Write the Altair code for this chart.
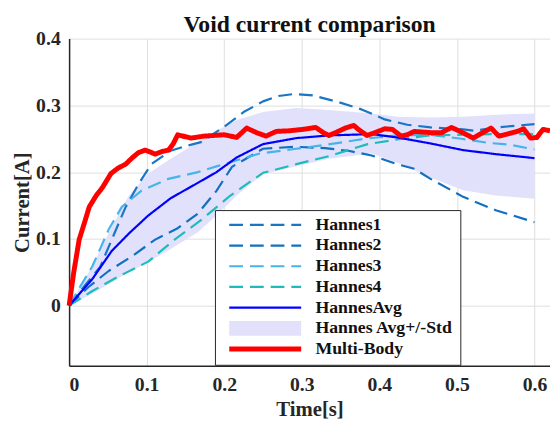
import altair as alt
import pandas as pd

# ---- data ----
h1_t = [0, 0.02, 0.04, 0.055, 0.073, 0.09, 0.106, 0.131, 0.15, 0.17, 0.2, 0.225, 0.25, 0.27, 0.29, 0.314, 0.347, 0.377, 0.407, 0.436, 0.466, 0.508, 0.522, 0.552, 0.6]
h1_v = [0, 0.03, 0.058, 0.099, 0.148, 0.183, 0.212, 0.232, 0.239, 0.245, 0.268, 0.29, 0.306, 0.314, 0.317, 0.315, 0.305, 0.294, 0.279, 0.271, 0.267, 0.264, 0.262, 0.267, 0.272]

h2_t = [0, 0.025, 0.051, 0.081, 0.111, 0.14, 0.166, 0.19, 0.21, 0.25, 0.29, 0.33, 0.36, 0.39, 0.42, 0.445, 0.466, 0.508, 0.55, 0.6]
h2_v = [0, 0.028, 0.052, 0.074, 0.099, 0.116, 0.138, 0.172, 0.208, 0.235, 0.238, 0.236, 0.232, 0.225, 0.213, 0.205, 0.19, 0.163, 0.143, 0.125]

h3_t = [0, 0.015, 0.03, 0.051, 0.068, 0.093, 0.128, 0.166, 0.191, 0.208, 0.246, 0.293, 0.343, 0.381, 0.423, 0.466, 0.506, 0.54, 0.569, 0.6]
h3_v = [0, 0.03, 0.059, 0.114, 0.148, 0.172, 0.19, 0.2, 0.209, 0.215, 0.228, 0.235, 0.243, 0.25, 0.255, 0.256, 0.25, 0.244, 0.241, 0.234]

h4_t = [0, 0.03, 0.064, 0.102, 0.136, 0.17, 0.208, 0.25, 0.293, 0.335, 0.385, 0.423, 0.466, 0.508, 0.55, 0.6]
h4_v = [0, 0.022, 0.044, 0.066, 0.099, 0.128, 0.165, 0.199, 0.212, 0.224, 0.242, 0.249, 0.255, 0.256, 0.257, 0.257]

avg_t = [0, 0.03, 0.055, 0.077, 0.102, 0.131, 0.166, 0.19, 0.216, 0.25, 0.293, 0.335, 0.39, 0.423, 0.466, 0.508, 0.55, 0.6]
avg_v = [0, 0.04, 0.082, 0.108, 0.135, 0.161, 0.184, 0.2, 0.222, 0.242, 0.251, 0.255, 0.257, 0.252, 0.243, 0.233, 0.227, 0.221]
std_hi = [0, 0.06, 0.118, 0.165, 0.198, 0.22, 0.245, 0.262, 0.278, 0.29, 0.296, 0.293, 0.288, 0.283, 0.282, 0.283, 0.286, 0.288]
std_lo = [0, 0.018, 0.035, 0.05, 0.065, 0.085, 0.11, 0.135, 0.165, 0.197, 0.209, 0.22, 0.228, 0.214, 0.192, 0.173, 0.165, 0.16]

mb_t = [0, 0.006, 0.013, 0.02, 0.026, 0.035, 0.043, 0.054, 0.063, 0.073, 0.08, 0.089, 0.098, 0.105, 0.111, 0.12, 0.128, 0.134, 0.14, 0.157, 0.174, 0.2, 0.216, 0.229, 0.242, 0.254, 0.267, 0.284, 0.301, 0.318, 0.328, 0.335, 0.345, 0.356, 0.367, 0.373, 0.384, 0.394, 0.407, 0.417, 0.428, 0.436, 0.445, 0.468, 0.48, 0.493, 0.506, 0.521, 0.533, 0.544, 0.554, 0.565, 0.578, 0.586, 0.595, 0.603, 0.611, 0.62]
mb_v = [0, 0.05, 0.099, 0.125, 0.148, 0.165, 0.177, 0.198, 0.206, 0.212, 0.22, 0.229, 0.233, 0.23, 0.227, 0.231, 0.233, 0.242, 0.256, 0.251, 0.254, 0.256, 0.252, 0.266, 0.259, 0.254, 0.261, 0.262, 0.264, 0.267, 0.259, 0.255, 0.26, 0.266, 0.27, 0.264, 0.255, 0.259, 0.265, 0.264, 0.254, 0.256, 0.261, 0.259, 0.259, 0.267, 0.26, 0.251, 0.259, 0.266, 0.254, 0.257, 0.261, 0.265, 0.251, 0.252, 0.264, 0.262]

names = ["Hannes1", "Hannes2", "Hannes3", "Hannes4", "HannesAvg", "Hannes Avg+/-Std", "Multi-Body"]
colors = ["#1a76c4", "#1270c0", "#46b4ea", "#1cbcbc", "#0000ff", "#e1e1fb", "#ff0000"]
dashes = [[14, 7], [14, 7], [14, 7], [14, 7], [1, 0], [1, 0], [1, 0]]
widths = [2.2, 2.2, 2.2, 2.2, 2.2, 15, 5]

x_ticks = [0, 0.1, 0.2, 0.3, 0.4, 0.5, 0.6]
y_ticks = [0, 0.1, 0.2, 0.3, 0.4]

# ---- tables ----
series = {
    "Hannes1": (h1_t, h1_v),
    "Hannes2": (h2_t, h2_v),
    "Hannes3": (h3_t, h3_v),
    "Hannes4": (h4_t, h4_v),
    "HannesAvg": (avg_t, avg_v),
    "Multi-Body": (mb_t, mb_v),
}
rows = []
for name, (ts, vs) in series.items():
    for t, v in zip(ts, vs):
        rows.append({"series": name, "t": t, "v": v})
lines_df = pd.DataFrame(rows)
band_df = pd.DataFrame({"t": avg_t, "lo": std_lo, "hi": std_hi})

FONT = "Liberation Serif"
TXT = "#262626"

xscale = alt.Scale(domain=[0, 0.62], nice=False, zero=False)
yscale = alt.Scale(domain=[-0.09, 0.4], nice=False, zero=False)

xaxis = alt.Axis(values=x_ticks, format="~g", title="Time[s]", grid=True, ticks=False,
                 labelPadding=9, titlePadding=4)
yaxis = alt.Axis(values=y_ticks, format="~g", title="Current[A]", grid=True, ticks=False,
                 labelPadding=9, titlePadding=3)

band = alt.Chart(band_df).mark_area(color="#e1e1fb", opacity=1).encode(
    x=alt.X("t:Q", scale=xscale, axis=xaxis),
    y=alt.Y("lo:Q", scale=yscale, axis=yaxis),
    y2="hi:Q",
)

leg = alt.Legend(orient="none", legendX=148, legendY=174, symbolType="stroke")

lines = alt.Chart(lines_df).mark_line(strokeJoin="round").encode(
    x=alt.X("t:Q", scale=xscale),
    y=alt.Y("v:Q", scale=yscale),
    color=alt.Color("series:N", title=None, scale=alt.Scale(domain=names, range=colors), legend=leg),
    strokeDash=alt.StrokeDash("series:N", title=None, scale=alt.Scale(type="ordinal", domain=names, range=dashes), legend=leg),
    strokeWidth=alt.StrokeWidth("series:N", title=None, scale=alt.Scale(type="ordinal", domain=names, range=widths), legend=leg),
)

chart = alt.layer(band, lines).properties(
    width=488,
    height=332,
    title=alt.TitleParams("Void current comparison", font=FONT, fontSize=24, fontWeight="bold",
                          color="#111111", offset=6, frame="group", dy=14),
    autosize=alt.AutoSizeParams(type="none"),
    padding={"left": 62, "top": 28, "right": 0, "bottom": 56},
).configure_view(stroke=None).configure_axis(
    labelFont=FONT, labelFontSize=20, labelFontWeight="bold", labelColor=TXT,
    titleFont=FONT, titleFontSize=21, titleFontWeight="bold", titleColor=TXT,
    gridColor="#dedede", gridWidth=1, domainColor=TXT, domainWidth=1.5,
).configure_legend(
    symbolSize=5329, clipHeight=16, rowPadding=3, labelOffset=7, padding=7,
    labelFont=FONT, labelFontSize=18, labelFontWeight="bold", labelColor="#111111",
    strokeColor=TXT, fillColor="white", symbolOpacity=1,
)

chart.save("out.html", embed_options={"renderer": "svg", "actions": False})
